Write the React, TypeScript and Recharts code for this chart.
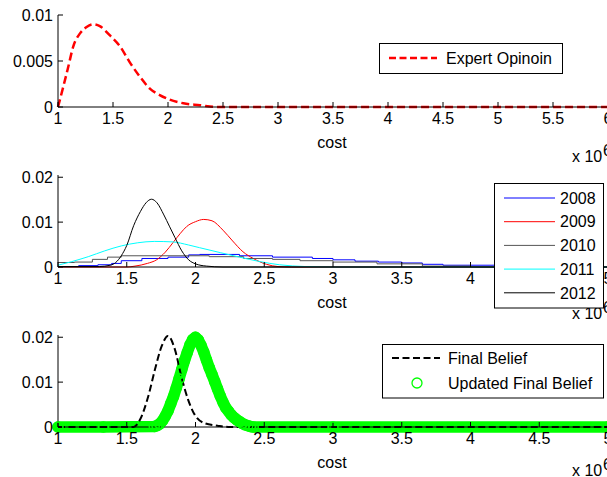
import React from 'react'
import { LineChart, Line, XAxis, YAxis } from 'recharts'

const FONT = '"Liberation Sans", Arial, Helvetica, sans-serif'

// panel 1 - expert opinion
const expertCost = [1, 1.048, 1.094, 1.139, 1.2, 1.26, 1.32, 1.38, 1.47, 1.563, 1.65, 1.744, 1.835, 1.925, 2.016, 2.14, 2.29, 2.44, 3, 3.5, 4, 4.5, 5, 5.5, 6]
const expertDensity = [0, 0.0022, 0.0044, 0.0066, 0.008, 0.0087, 0.009, 0.0088, 0.0078, 0.0066, 0.0049, 0.0033, 0.002, 0.0013, 0.0008, 0.0004, 0.0002, 0, 0, 0, 0, 0, 0, 0, 0]

// panel 2 - yearly estimates
const cost2008 = [1, 1.15, 1.29, 1.39, 1.46, 1.61, 1.8, 1.95, 2.03, 2.32, 2.56, 2.85, 3.0, 3.16, 3.33, 3.5, 3.65, 3.8, 4.2, 4.4, 5]
const density2008 = [0.0001, 0.0003, 0.0005, 0.0008, 0.0014, 0.0019, 0.0022, 0.0027, 0.0028, 0.0025, 0.0022, 0.0019, 0.0016, 0.0013, 0.0011, 0.0009, 0.0006, 0.0004, 0.0001, 0, 0]
const cost2009 = [1, 1.5, 1.56, 1.65, 1.717, 1.78, 1.838, 1.89, 1.935, 2.0, 2.06, 2.12, 2.2, 2.27, 2.345, 2.42, 2.516, 2.6, 2.7, 5]
const density2009 = [0, 0, 0.0002, 0.0008, 0.0016, 0.0033, 0.0055, 0.0075, 0.009, 0.0101, 0.0106, 0.0103, 0.0082, 0.0058, 0.0034, 0.0019, 0.0006, 0.0001, 0, 0]
const cost2010 = [1, 1.12, 1.25, 1.36, 1.46, 2.1, 2.35, 2.56, 2.76, 3.0, 3.32, 3.65, 4.0, 5]
const density2010 = [0.001, 0.0011, 0.0017, 0.0022, 0.0025, 0.0023, 0.0019, 0.0017, 0.0014, 0.0011, 0.0007, 0.0002, 0, 0]
const cost2011 = [1, 1.1, 1.22, 1.34, 1.46, 1.58, 1.7, 1.83, 1.95, 2.03, 2.18, 2.32, 2.47, 2.61, 2.8, 3.0, 5]
const density2011 = [0.0004, 0.0012, 0.0023, 0.0036, 0.0047, 0.0054, 0.0057, 0.0056, 0.0049, 0.0043, 0.0032, 0.0022, 0.0012, 0.0005, 0.0001, 0, 0]
const cost2012 = [1, 1.3, 1.38, 1.42, 1.46, 1.5, 1.55, 1.6, 1.64, 1.68, 1.72, 1.77, 1.81, 1.85, 1.9, 1.95, 2.0, 2.08, 2.2, 5]
const density2012 = [0.0001, 0.0001, 0.0004, 0.001, 0.0025, 0.0048, 0.0092, 0.0124, 0.0143, 0.0151, 0.0143, 0.0116, 0.0091, 0.0066, 0.0036, 0.0016, 0.0007, 0.0002, 0, 0]

// panel 3 - beliefs
const finalCost = [1, 1.55, 1.596, 1.656, 1.705, 1.754, 1.8, 1.85, 1.897, 1.946, 1.995, 2.07, 2.16, 2.25, 5]
const finalDensity = [0, 0, 0.0016, 0.0068, 0.0128, 0.018, 0.0203, 0.0173, 0.0113, 0.0061, 0.0027, 0.0008, 0.0003, 0, 0]
const updatedCost = [1, 1.33, 1.7, 1.72, 1.74, 1.76, 1.78, 1.8, 1.82, 1.84, 1.86, 1.88, 1.9, 1.92, 1.94, 1.96, 1.98, 2.0, 2.02, 2.04, 2.06, 2.08, 2.1, 2.12, 2.14, 2.16, 2.18, 2.2, 2.22, 2.24, 2.26, 2.28, 2.3, 2.32, 2.34, 2.36, 2.38, 2.4, 2.42, 3, 5]
const updatedDensity = [0, 0, 0.0001, 0.0003, 0.0007, 0.0014, 0.0024, 0.0036, 0.0052, 0.0068, 0.0087, 0.0107, 0.0128, 0.0148, 0.0166, 0.0183, 0.0195, 0.02, 0.0194, 0.0182, 0.0167, 0.0149, 0.0132, 0.0117, 0.0101, 0.0085, 0.0069, 0.0055, 0.0043, 0.0035, 0.0027, 0.0021, 0.0016, 0.0012, 0.0008, 0.0005, 0.0003, 0.0001, 0, 0, 0]

const ticks6 = [1, 1.5, 2, 2.5, 3, 3.5, 4, 4.5, 5, 5.5, 6]
const ticks5 = [1, 1.5, 2, 2.5, 3, 3.5, 4, 4.5, 5]
const yTicksTop = [0, 0.005, 0.01]
const yTicksLow = [0, 0.01, 0.02]

const years = ['2008', '2009', '2010', '2011', '2012']
const yearColors = ['#0000ff', '#ff0000', '#555555', '#00ffff', '#000000']

const rows = (xs: number[], ys: number[]) => xs.map((x, i) => ({ cost: x, density: ys[i] }))

const tickStyle = { fill: '#000', fontSize: 16, fontFamily: FONT }

// matlab-like box: labelled bottom/left axes, bare top/right axes, ticks pointing in
const frame = (xMax: number, xTicks: number[], yMax: number, yTicks: number[]) => [
  <XAxis key="xb" dataKey="cost" type="number" domain={[1, xMax]} ticks={xTicks} interval={0}
    height={30} stroke="#000" tickSize={-5} tickMargin={11} tick={tickStyle} />,
  <XAxis key="xt" xAxisId="top" orientation="top" type="number" domain={[1, xMax]} ticks={xTicks}
    interval={0} height={0} stroke="#000" tickSize={-5} tick={false} />,
  <YAxis key="yl" type="number" domain={[0, yMax]} ticks={yTicks} interval={0} width={58}
    stroke="#000" tickSize={-5} tickMargin={10} tick={tickStyle} />,
  <YAxis key="yr" yAxisId="right" orientation="right" type="number" domain={[0, yMax]} ticks={yTicks}
    interval={0} width={0} stroke="#000" tickSize={-5} tick={false} />,
]

const chartProps = { width: 608, height: 137, margin: { top: 15, right: 0, bottom: 0, left: 0 } }

const AxisText = ({ costY, expY }: { costY: number; expY: number }) => (
  <g fontFamily={FONT} fontSize={16} fill="#000">
    <text x={332} y={costY} textAnchor="middle">cost</text>
    <text x={572} y={expY}>x 10</text>
    <text x={603} y={expY - 6}>6</text>
  </g>
)

export default function App() {
  return (
    <div style={{ position: 'fixed', left: 0, top: 0, width: 607, height: 477, overflow: 'hidden', background: '#fff' }}>
      <div style={{ position: 'absolute', left: 0, top: 0 }}>
        <LineChart {...chartProps}>
          {frame(6, ticks6, 0.01, yTicksTop)}
          <Line data={rows(expertCost, expertDensity)} dataKey="density" type="monotone" stroke="#ff0000"
            strokeWidth={2.5} strokeDasharray="8 4" dot={false} activeDot={false} isAnimationActive={false} />
        </LineChart>
      </div>

      <div style={{ position: 'absolute', left: 0, top: 160 }}>
        <LineChart {...chartProps}>
          {frame(5, ticks5, 0.0205, yTicksLow)}
          <Line data={rows(cost2008, density2008)} dataKey="density" type="stepAfter" stroke={yearColors[0]}
            strokeWidth={1} dot={false} activeDot={false} isAnimationActive={false} />
          <Line data={rows(cost2009, density2009)} dataKey="density" type="monotone" stroke={yearColors[1]}
            strokeWidth={1} dot={false} activeDot={false} isAnimationActive={false} />
          <Line data={rows(cost2010, density2010)} dataKey="density" type="stepAfter" stroke={yearColors[2]}
            strokeWidth={1} dot={false} activeDot={false} isAnimationActive={false} />
          <Line data={rows(cost2011, density2011)} dataKey="density" type="monotone" stroke={yearColors[3]}
            strokeWidth={1} dot={false} activeDot={false} isAnimationActive={false} />
          <Line data={rows(cost2012, density2012)} dataKey="density" type="monotone" stroke={yearColors[4]}
            strokeWidth={1} dot={false} activeDot={false} isAnimationActive={false} />
        </LineChart>
      </div>

      <div style={{ position: 'absolute', left: 0, top: 320 }}>
        <LineChart {...chartProps}>
          {frame(5, ticks5, 0.0205, yTicksLow)}
          <Line data={rows(updatedCost, updatedDensity)} dataKey="density" type="linear" stroke="#00ff00"
            strokeWidth={11.5} strokeLinecap="round" strokeLinejoin="round"
            dot={{ r: 5, stroke: '#00ff00', strokeWidth: 1.5, fill: 'none' }} activeDot={false} isAnimationActive={false} />
          <Line data={rows(finalCost, finalDensity)} dataKey="density" type="monotone" stroke="#000"
            strokeWidth={2} strokeDasharray="7 3.5" dot={false} activeDot={false} isAnimationActive={false} />
        </LineChart>
      </div>

      <svg width={607} height={477} style={{ position: 'absolute', left: 0, top: 0 }}>
        <AxisText costY={148} expY={162} />
        <AxisText costY={308} expY={319} />
        <AxisText costY={468} expY={476} />

        <g fontFamily={FONT} fontSize={16} fill="#000">
          <rect x={379.5} y={43.5} width={183} height={30} fill="#fff" stroke="#000" />
          <line x1={389} x2={437} y1={58} y2={58} stroke="#ff0000" strokeWidth={2.5} strokeDasharray="7 3.5" />
          <text x={446} y={64}>Expert Opinoin</text>

          <rect x={494.5} y={183.5} width={109} height={124.5} fill="#fff" stroke="#000" />
          {years.map((y, i) => (
            <g key={y}>
              <line x1={504} x2={555} y1={198 + i * 23.7} y2={198 + i * 23.7} stroke={yearColors[i]} strokeWidth={1} />
              <text x={560} y={198 + i * 23.7 + 5.7}>{y}</text>
            </g>
          ))}

          <rect x={382.5} y={344.5} width={221} height={53.5} fill="#fff" stroke="#000" />
          <line x1={392} x2={440} y1={358} y2={358} stroke="#000" strokeWidth={2} strokeDasharray="7 3.5" />
          <text x={448} y={363.7}>Final Belief</text>
          <circle cx={417} cy={383} r={5} fill="none" stroke="#00ff00" strokeWidth={1.3} />
          <text x={448} y={388.7}>Updated Final Belief</text>
        </g>
      </svg>
    </div>
  )
}
